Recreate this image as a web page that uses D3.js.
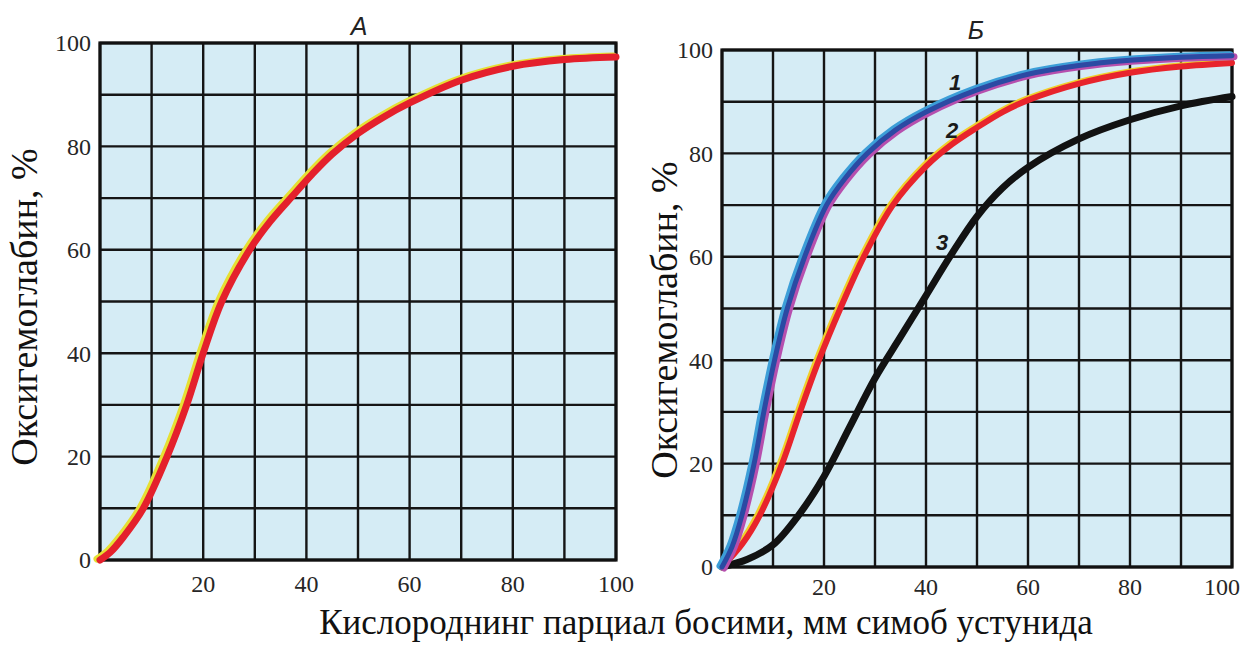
<!DOCTYPE html>
<html>
<head>
<meta charset="utf-8">
<script src="https://cdn.jsdelivr.net/npm/d3@7"></script>
<style>
  body { margin: 0; background: #fff; }
  svg { display: block; }
</style>
</head>
<body>
<svg id="chart" width="1246" height="648"></svg>
<script>
// grid every 10 units, labels every 20
const gridSteps = [0, 10, 20, 30, 40, 50, 60, 70, 80, 90, 100];
const xTickLabels = [20, 40, 60, 80, 100];
const yTickLabels = [0, 20, 40, 60, 80, 100];

// panel A - single curve
const pressureA = [0, 2, 4.5, 8.4, 13, 16.8, 20, 23.6, 29, 33, 37.4, 41, 45, 50, 55, 60, 70, 80, 90, 100];
const saturationA = [0, 1.5, 4.4, 10, 20, 30, 40, 50, 60, 65.5, 70.5, 74.5, 78.5, 82.5, 85.7, 88.4, 92.8, 95.5, 96.8, 97.3];

// panel Б - curves 1, 2, 3
const pressureB1 = [0, 2, 3.9, 6.3, 8.2, 10.3, 12.8, 16.2, 20.5, 24, 28.5, 34, 40, 50, 60, 70, 80, 90, 100];
const saturationB1 = [0, 4, 10, 20, 30, 40, 50, 60, 70, 75, 80, 84.5, 88, 92.3, 95.3, 97, 98, 98.6, 98.9];

const pressureB2 = [0, 4, 7.4, 11.8, 15.3, 19, 23.2, 27.8, 33.5, 40, 45, 50, 55, 60, 70, 80, 90, 100];
const saturationB2 = [0, 4.5, 10, 20, 30, 40, 50, 60, 70, 77.5, 81.7, 85, 88, 90.3, 93.5, 95.6, 96.8, 97.5];

const pressureB3 = [0, 5, 10, 15, 20, 25, 30, 35, 40, 45, 50, 55, 60, 70, 80, 90, 100];
const saturationB3 = [0, 1.5, 4.3, 10, 17.5, 27, 36.5, 44.5, 52.5, 60.5, 67.8, 73.3, 77.3, 82.8, 86.5, 89.2, 91];

const yTitle = "Оксигемоглабин, %";
const xTitle = "Кислороднинг парциал босими, мм симоб устунида";

const svg = d3.select("#chart");
const serif = "'Liberation Serif', 'Times New Roman', serif";
const sans = "'Liberation Sans', Arial, sans-serif";

const zip = (xs, ys) => xs.map((x, i) => [x, ys[i]]);

function drawPanel(box, title, titlePos, yTitlePos, curves, labels) {
  const x = d3.scaleLinear().domain([0, 100]).range([box.x0, box.x1]);
  const y = d3.scaleLinear().domain([0, 100]).range([box.y1, box.y0]);

  const g = svg.append("g");

  g.append("rect")
    .attr("x", box.x0).attr("y", box.y0)
    .attr("width", box.x1 - box.x0).attr("height", box.y1 - box.y0)
    .attr("fill", "#d5ecf5");

  // grid
  g.append("g").selectAll("line")
    .data(gridSteps)
    .join("line")
    .attr("x1", d => x(d)).attr("x2", d => x(d))
    .attr("y1", box.y0).attr("y2", box.y1)
    .attr("stroke", "#151515").attr("stroke-width", 2.4);

  g.append("g").selectAll("line")
    .data(gridSteps)
    .join("line")
    .attr("x1", box.x0).attr("x2", box.x1)
    .attr("y1", d => y(d)).attr("y2", d => y(d))
    .attr("stroke", "#151515").attr("stroke-width", 2.4);

  g.append("rect")
    .attr("x", box.x0).attr("y", box.y0)
    .attr("width", box.x1 - box.x0).attr("height", box.y1 - box.y0)
    .attr("fill", "none").attr("stroke", "#111").attr("stroke-width", 3.2);

  const line = d3.line()
    .x(d => x(d[0]))
    .y(d => y(d[1]))
    .curve(d3.curveCatmullRom.alpha(0.5));

  curves.forEach(c => {
    c.strokes.forEach(s => {
      g.append("path")
        .datum(c.points)
        .attr("d", line)
        .attr("fill", "none")
        .attr("stroke", s.color)
        .attr("stroke-width", s.width)
        .attr("stroke-linecap", "round")
        .attr("transform", `translate(${s.dx || 0},${s.dy || 0})`);
    });
  });

  // tick labels
  g.append("g").selectAll("text")
    .data(xTickLabels)
    .join("text")
    .attr("x", d => Math.min(x(d), 1222))
    .attr("y", box.y1 + box.labelGap)
    .attr("text-anchor", "middle")
    .attr("font-family", serif)
    .attr("font-size", 24)
    .attr("fill", "#262626")
    .text(d => d);

  g.append("g").selectAll("text")
    .data(yTickLabels)
    .join("text")
    .attr("x", box.x0 - 9)
    .attr("y", d => y(d))
    .attr("dy", "0.35em")
    .attr("text-anchor", "end")
    .attr("font-family", serif)
    .attr("font-size", 24)
    .attr("fill", "#262626")
    .text(d => d);

  g.append("text")
    .attr("transform", `translate(${yTitlePos[0]},${yTitlePos[1]}) rotate(-90)`)
    .attr("text-anchor", "middle")
    .attr("dy", "0.35em")
    .attr("font-family", serif)
    .attr("font-size", 38)
    .attr("fill", "#111")
    .text(yTitle);

  g.append("text")
    .attr("x", titlePos[0]).attr("y", titlePos[1])
    .attr("text-anchor", "middle")
    .attr("font-family", sans)
    .attr("font-style", "italic")
    .attr("font-size", 25)
    .attr("fill", "#222")
    .text(title);

  (labels || []).forEach(l => {
    g.append("text")
      .attr("x", l.x).attr("y", l.y)
      .attr("text-anchor", "middle")
      .attr("dy", "0.35em")
      .attr("font-family", sans)
      .attr("font-style", "italic")
      .attr("font-weight", "bold")
      .attr("font-size", 22)
      .attr("fill", "#1a1a1a")
      .text(l.text);
  });
}

drawPanel(
  { x0: 100, x1: 616, y0: 43, y1: 560, labelGap: 32 },
  "A", [359, 35], [24, 307],
  [{
    points: zip(pressureA, saturationA),
    strokes: [
      { color: "#e6e033", width: 7, dx: -3, dy: -1 },
      { color: "#e4202c", width: 7 }
    ]
  }]
);

drawPanel(
  { x0: 722, x1: 1232, y0: 50, y1: 567, labelGap: 28 },
  "Б", [976, 39], [664, 320],
  [
    {
      points: zip(pressureB3, saturationB3),
      strokes: [{ color: "#121212", width: 7 }]
    },
    {
      points: zip(pressureB2, saturationB2),
      strokes: [
        { color: "#f0cf2a", width: 6, dx: -2, dy: -1 },
        { color: "#e8242c", width: 6 }
      ]
    },
    {
      points: zip(pressureB1, saturationB1),
      strokes: [
        { color: "#3c9ed8", width: 7, dx: -2, dy: -1 },
        { color: "#b64fae", width: 7, dx: 2, dy: 1 },
        { color: "#2b4aa3", width: 5 }
      ]
    }
  ],
  [
    { text: "1", x: 955, y: 82 },
    { text: "2", x: 952, y: 130 },
    { text: "3", x: 942, y: 242 }
  ]
);

svg.append("text")
  .attr("x", 706)
  .attr("y", 634)
  .attr("text-anchor", "middle")
  .attr("font-family", serif)
  .attr("font-size", 35)
  .attr("fill", "#111")
  .text(xTitle);
</script>
</body>
</html>
